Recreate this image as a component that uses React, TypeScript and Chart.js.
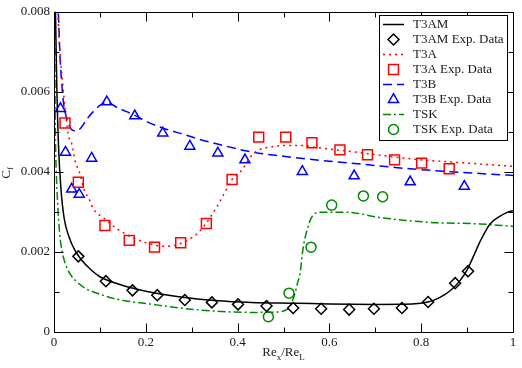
import React, { useEffect, useRef } from 'react';
import { Chart, registerables } from 'chart.js';

Chart.register(...registerables);

// ---------- data (x = Re_x/Re_L, y = Cf) ----------
const t3amLineX = [0.003, 0.006, 0.01, 0.015, 0.022, 0.032, 0.045, 0.06, 0.08, 0.1, 0.14, 0.2, 0.28, 0.35, 0.43, 0.53, 0.6, 0.7, 0.78, 0.815, 0.84, 0.865, 0.885, 0.9, 0.913, 0.93, 0.95, 0.97, 0.99, 1.0];
const t3amLineY = [0.0082, 0.0062, 0.0046, 0.0036, 0.00285, 0.0024, 0.00205, 0.0018, 0.00156, 0.00138, 0.0012, 0.00102, 0.00087, 0.00079, 0.00074, 0.00072, 0.0007, 0.00069, 0.0007, 0.00075, 0.00086, 0.00105, 0.00129, 0.00155, 0.00187, 0.0023, 0.0027, 0.00288, 0.003, 0.00303];

const t3amExpX = [0.053, 0.113, 0.171, 0.225, 0.285, 0.344, 0.401, 0.463, 0.521, 0.582, 0.643, 0.697, 0.758, 0.815, 0.874, 0.902];
const t3amExpY = [0.00189, 0.00127, 0.00104, 0.00092, 0.0008, 0.00074, 0.00069, 0.00065, 0.0006, 0.00058, 0.00056, 0.00058, 0.0006, 0.00075, 0.00122, 0.00152];

const t3aLineX = [0.008, 0.01, 0.013, 0.019, 0.024, 0.031, 0.039, 0.046, 0.057, 0.064, 0.078, 0.086, 0.107, 0.137, 0.173, 0.209, 0.24, 0.282, 0.318, 0.354, 0.391, 0.409, 0.427, 0.442, 0.471, 0.507, 0.543, 0.572, 0.638, 0.783, 0.9, 1.0];
const t3aLineY = [0.0083, 0.0076, 0.007, 0.0062, 0.0056, 0.00494, 0.00469, 0.00427, 0.00394, 0.00361, 0.00328, 0.00307, 0.00286, 0.00258, 0.00235, 0.0022, 0.00214, 0.00224, 0.00253, 0.00311, 0.00386, 0.00404, 0.00436, 0.00452, 0.00462, 0.00466, 0.00466, 0.00461, 0.00452, 0.00432, 0.00422, 0.00414];

const t3aExpX = [0.024, 0.053, 0.111, 0.164, 0.219, 0.276, 0.332, 0.388, 0.446, 0.505, 0.562, 0.623, 0.683, 0.742, 0.801, 0.861];
const t3aExpY = [0.00522, 0.00374, 0.00266, 0.00229, 0.00212, 0.00223, 0.00271, 0.00381, 0.00487, 0.00487, 0.00473, 0.00455, 0.00443, 0.0043, 0.00422, 0.00408];

const t3bLineX = [0.008, 0.0094, 0.013, 0.017, 0.02, 0.024, 0.03, 0.037, 0.049, 0.06, 0.071, 0.085, 0.1, 0.115, 0.137, 0.173, 0.209, 0.246, 0.282, 0.318, 0.362, 0.43, 0.5, 0.58, 0.638, 0.783, 0.9, 0.986, 1.0];
const t3bLineY = [0.0083, 0.008, 0.0069, 0.0062, 0.0058, 0.0055, 0.00525, 0.00507, 0.00502, 0.00512, 0.00531, 0.0055, 0.00566, 0.00574, 0.00561, 0.00543, 0.00522, 0.00506, 0.00494, 0.00481, 0.00468, 0.0045, 0.00439, 0.00429, 0.00423, 0.00407, 0.00398, 0.00392, 0.00391];

const t3bExpX = [0.014, 0.025, 0.0385, 0.055, 0.082, 0.115, 0.176, 0.237, 0.296, 0.357, 0.416, 0.541, 0.654, 0.776, 0.894];
const t3bExpY = [0.00558, 0.00449, 0.00357, 0.00344, 0.00434, 0.00575, 0.0054, 0.00497, 0.00464, 0.00447, 0.0043, 0.00401, 0.0039, 0.00375, 0.00364];

const tskLineX = [0.0015, 0.002, 0.003, 0.005, 0.008, 0.012, 0.018, 0.025, 0.035, 0.05, 0.07, 0.086, 0.137, 0.209, 0.282, 0.354, 0.427, 0.49, 0.505, 0.514, 0.52, 0.525, 0.53, 0.536, 0.543, 0.551, 0.561, 0.58, 0.638, 0.71, 0.819, 0.928, 1.0];
const tskLineY = [0.0083, 0.0065, 0.005, 0.004, 0.0032, 0.0025, 0.002, 0.0017, 0.00145, 0.00125, 0.00108, 0.001, 0.00082, 0.0007, 0.00059, 0.00052, 0.00049, 0.0005, 0.00055, 0.00063, 0.0008, 0.00096, 0.0012, 0.00146, 0.00212, 0.00253, 0.00286, 0.00299, 0.00299, 0.00286, 0.00274, 0.0027, 0.00264];

const tskExpX = [0.467, 0.512, 0.56, 0.605, 0.674, 0.716];
const tskExpY = [0.00038, 0.00097, 0.00212, 0.00317, 0.0034, 0.00338];

const xMajorTicks = [0, 0.2, 0.4, 0.6, 0.8, 1];
const xMinorTicks = [0.1, 0.3, 0.5, 0.7, 0.9];
const yMajorTicks = [0, 0.002, 0.004, 0.006, 0.008];
const yMinorTicks = [0.001, 0.003, 0.005, 0.007];

const seriesLabels = ['T3AM', 'T3AM Exp. Data', 'T3A', 'T3A Exp. Data', 'T3B', 'T3B Exp. Data', 'TSK', 'TSK Exp. Data'];

const FONT = '"Liberation Serif", "Times New Roman", serif';
const TEXT = '#1a1a1a';

const pts = (xs: number[], ys: number[]) => xs.map((x, i) => ({ x, y: ys[i] }));

function drawMarker(ctx: CanvasRenderingContext2D, style: string, x: number, y: number, r: number) {
  ctx.beginPath();
  if (style === 'rectRot') {
    ctx.moveTo(x - r, y); ctx.lineTo(x, y - r); ctx.lineTo(x + r, y); ctx.lineTo(x, y + r); ctx.closePath();
  } else if (style === 'rect') {
    const s = r * Math.SQRT1_2;
    ctx.rect(x - s, y - s, 2 * s, 2 * s);
  } else if (style === 'triangle') {
    ctx.moveTo(x, y - r);
    ctx.lineTo(x + r * 0.866, y + r * 0.5);
    ctx.lineTo(x - r * 0.866, y + r * 0.5);
    ctx.closePath();
  } else {
    ctx.arc(x, y, r, 0, Math.PI * 2);
  }
  ctx.stroke();
}

const decorPlugin = {
  id: 'decor',
  afterDatasetsDraw(chart: any) {
    const { ctx, chartArea: a, scales } = chart;
    const xs = scales.x, ys = scales.y;
    ctx.save();
    ctx.strokeStyle = '#000';
    ctx.lineWidth = 1;
    ctx.setLineDash([]);
    const L = Math.round(a.left) + 0.5, R = Math.round(a.right) + 0.5;
    const T = Math.round(a.top) + 0.5, B = Math.round(a.bottom) + 0.5;
    ctx.strokeRect(L, T, R - L, B - T);
    ctx.beginPath();
    const xt = (vals: number[], len: number) => vals.forEach(v => {
      const p = Math.round(xs.getPixelForValue(v)) + 0.5;
      ctx.moveTo(p, B); ctx.lineTo(p, B - len);
      ctx.moveTo(p, T); ctx.lineTo(p, T + len);
    });
    const yt = (vals: number[], len: number) => vals.forEach(v => {
      const p = Math.round(ys.getPixelForValue(v)) + 0.5;
      ctx.moveTo(L, p); ctx.lineTo(L + len, p);
      ctx.moveTo(R, p); ctx.lineTo(R - len, p);
    });
    xt(xMajorTicks, 9); xt(xMinorTicks, 5);
    yt(yMajorTicks, 9); yt(yMinorTicks, 5);
    ctx.stroke();
    ctx.restore();
  },
  afterDraw(chart: any) {
    const { ctx, chartArea: a } = chart;
    ctx.save();
    // ---- axis titles ----
    ctx.fillStyle = TEXT;
    ctx.textBaseline = 'middle';
    ctx.textAlign = 'left';
    const big = `13px ${FONT}`, small = `9px ${FONT}`;
    const parts: [string, boolean][] = [['Re', false], ['x', true], ['/Re', false], ['L', true]];
    let total = 0;
    parts.forEach(([t, sub]) => { ctx.font = sub ? small : big; total += ctx.measureText(t).width; });
    let cx = (a.left + a.right) / 2 - total / 2;
    const ty = 353;
    parts.forEach(([t, sub]) => {
      ctx.font = sub ? small : big;
      ctx.fillText(t, cx, sub ? ty + 5 : ty);
      cx += ctx.measureText(t).width;
    });
    // y title C_f
    ctx.save();
    ctx.translate(7, (a.top + a.bottom) / 2 + 1);
    ctx.rotate(-Math.PI / 2);
    ctx.font = big;
    const wC = ctx.measureText('C').width;
    ctx.font = small;
    const wf = ctx.measureText('f').width;
    let sx = -(wC + wf) / 2;
    ctx.font = big;
    ctx.fillText('C', sx, 0);
    sx += wC;
    ctx.font = small;
    ctx.fillText('f', sx, 4);
    ctx.restore();

    // ---- legend ----
    const bx = 379.5, by = 15.5, bw = 128, bh = 125;
    ctx.fillStyle = '#fff';
    ctx.fillRect(bx, by, bw, bh);
    ctx.strokeStyle = '#000';
    ctx.lineWidth = 1;
    ctx.strokeRect(bx, by, bw, bh);
    chart.data.datasets.forEach((ds: any, i: number) => {
      const y = 24.5 + i * 15;
      ctx.strokeStyle = ds.borderColor;
      if (ds.showLine) {
        ctx.lineWidth = ds.borderWidth;
        ctx.setLineDash(ds.borderDash || []);
        ctx.beginPath();
        ctx.moveTo(383, y);
        ctx.lineTo(404, y);
        ctx.stroke();
        ctx.setLineDash([]);
      } else {
        ctx.lineWidth = ds.pointBorderWidth;
        drawMarker(ctx, ds.pointStyle, 393.5, y, ds.pointRadius);
      }
      ctx.fillStyle = TEXT;
      ctx.font = big;
      ctx.textBaseline = 'middle';
      ctx.fillText(ds.label, 413, y + 0.5);
    });
    ctx.restore();
  },
};

export default function App() {
  const ref = useRef<HTMLCanvasElement | null>(null);
  useEffect(() => {
    if (!ref.current) return;
    const line = (label: string, xs: number[], ys: number[], color: string, dash: number[]) => ({
      type: 'line', label, data: pts(xs, ys), borderColor: color, backgroundColor: color,
      borderWidth: 1.5, borderDash: dash, pointRadius: 0, showLine: true, fill: false,
      cubicInterpolationMode: 'monotone',
    });
    const marks = (label: string, xs: number[], ys: number[], color: string, style: string, r: number) => ({
      type: 'scatter', label, data: pts(xs, ys), borderColor: color, backgroundColor: 'rgba(0,0,0,0)',
      pointBackgroundColor: 'rgba(0,0,0,0)', pointBorderColor: color, pointBorderWidth: 1.5,
      pointStyle: style, pointRadius: r, pointHoverRadius: r, showLine: false,
    });
    const chart = new Chart(ref.current, {
      type: 'scatter',
      data: {
        datasets: [
          line(seriesLabels[0], t3amLineX, t3amLineY, '#000000', []),
          marks(seriesLabels[1], t3amExpX, t3amExpY, '#000000', 'rectRot', 5.5),
          line(seriesLabels[2], t3aLineX, t3aLineY, '#ff0000', [2, 4]),
          marks(seriesLabels[3], t3aExpX, t3aExpY, '#ff0000', 'rect', 7),
          line(seriesLabels[4], t3bLineX, t3bLineY, '#0000ff', [9, 5]),
          marks(seriesLabels[5], t3bExpX, t3bExpY, '#0000ff', 'triangle', 5.8),
          line(seriesLabels[6], tskLineX, tskLineY, '#008800', [8, 3, 2, 3]),
          marks(seriesLabels[7], tskExpX, tskExpY, '#008800', 'circle', 5),
        ] as any,
      },
      options: {
        animation: false,
        responsive: false,
        maintainAspectRatio: false,
        events: [],
        layout: { padding: { top: 10, right: 9, left: 0, bottom: 0 } },
        plugins: { legend: { display: false }, tooltip: { enabled: false }, title: { display: false } },
        scales: {
          x: {
            type: 'linear', min: 0, max: 1,
            grid: { display: false, drawTicks: false },
            border: { display: false },
            ticks: {
              stepSize: 0.2, autoSkip: false, maxRotation: 0, padding: 3,
              color: TEXT, font: { family: FONT, size: 13 },
              callback: (v: any) => String(Number(Number(v).toFixed(4))),
            },
            afterFit: (s: any) => { s.height = 36; },
          },
          y: {
            type: 'linear', min: 0, max: 0.008,
            grid: { display: false, drawTicks: false },
            border: { display: false },
            ticks: {
              stepSize: 0.002, autoSkip: false, padding: 4,
              color: TEXT, font: { family: FONT, size: 13 },
              callback: (v: any) => String(Number(Number(v).toFixed(4))),
            },
            afterFit: (s: any) => { s.width = 54; },
          },
        },
      } as any,
      plugins: [decorPlugin],
    });
    return () => chart.destroy();
  }, []);
  return (
    <div style={{ position: 'fixed', left: 0, top: 0, width: 522, height: 368, background: '#fff' }}>
      <canvas ref={ref} width={522} height={368} style={{ display: 'block', width: 522, height: 368 }} />
    </div>
  );
}
